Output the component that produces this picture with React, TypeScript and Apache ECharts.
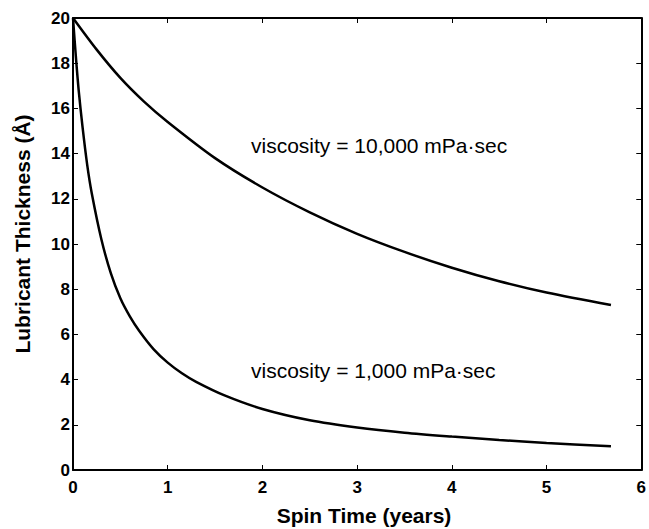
import React, { useEffect, useRef } from "react";
import * as echarts from "echarts";

const highViscT = [0, 0.25, 0.5, 0.75, 1, 1.5, 2, 2.5, 3, 3.5, 4, 4.5, 5, 5.68];
const highViscH = [20, 18.6, 17.35, 16.3, 15.4, 13.8, 12.5, 11.4, 10.45, 9.65, 8.95, 8.35, 7.85, 7.3];

const lowViscT = [0, 0.03, 0.06, 0.1, 0.15, 0.2, 0.3, 0.4, 0.5, 0.6, 0.7, 0.85, 1.0, 1.15, 1.3, 1.6, 2.0, 2.5, 3.0, 3.5, 4.0, 4.5, 5.0, 5.68];
const lowViscH = [20, 18.3, 16.8, 15.2, 13.5, 12.2, 10.2, 8.7, 7.6, 6.8, 6.15, 5.35, 4.75, 4.28, 3.9, 3.3, 2.7, 2.2, 1.88, 1.65, 1.48, 1.33, 1.2, 1.05];

const xTicks = [0, 1, 2, 3, 4, 5, 6];
const yTicks = [0, 2, 4, 6, 8, 10, 12, 14, 16, 18, 20];

const labelHigh = "viscosity = 10,000 mPa·sec";
const labelLow = "viscosity = 1,000 mPa·sec";
const xTitle = "Spin Time (years)";
const yTitle = "Lubricant Thickness (Å)";

const FONT = "Liberation Sans, Arial, Helvetica, sans-serif";

export default function App() {
  const ref = useRef<HTMLDivElement>(null);
  useEffect(() => {
    if (!ref.current) return;
    const chart = echarts.init(ref.current, undefined, { renderer: "svg" });
    const pair = (t: number[], h: number[]) => t.map((v, i) => [v, h[i]]);
    const axisLine = { show: true, onZero: false, lineStyle: { color: "#000", width: 2 } };
    const tick = { show: true, inside: true, length: 5, lineStyle: { color: "#000", width: 1 } };
    chart.setOption({
      animation: false,
      backgroundColor: "#fff",
      grid: { left: 73, right: 2, top: 18, bottom: 59, containLabel: false },
      xAxis: [
        {
          type: "value",
          min: xTicks[0],
          max: xTicks[xTicks.length - 1],
          interval: 1,
          position: "bottom",
          axisLine,
          axisTick: tick,
          splitLine: { show: false },
          axisLabel: { color: "#000", fontFamily: FONT, fontWeight: "bold", fontSize: 17, margin: 9 },
        },
        {
          type: "value",
          min: xTicks[0],
          max: xTicks[xTicks.length - 1],
          interval: 1,
          position: "top",
          axisLine,
          axisTick: tick,
          splitLine: { show: false },
          axisLabel: { show: false },
        },
      ],
      yAxis: [
        {
          type: "value",
          min: yTicks[0],
          max: yTicks[yTicks.length - 1],
          interval: 2,
          position: "left",
          axisLine,
          axisTick: tick,
          splitLine: { show: false },
          axisLabel: { color: "#000", fontFamily: FONT, fontWeight: "bold", fontSize: 17, margin: 3 },
        },
        {
          type: "value",
          min: yTicks[0],
          max: yTicks[yTicks.length - 1],
          interval: 2,
          position: "right",
          axisLine,
          axisTick: tick,
          splitLine: { show: false },
          axisLabel: { show: false },
        },
      ],
      series: [
        {
          name: "10,000 mPa·sec",
          type: "line",
          data: pair(highViscT, highViscH),
          smooth: 0.3,
          showSymbol: false,
          lineStyle: { color: "#000", width: 2.5 },
        },
        {
          name: "1,000 mPa·sec",
          type: "line",
          data: pair(lowViscT, lowViscH),
          smooth: 0.3,
          showSymbol: false,
          lineStyle: { color: "#000", width: 2.5 },
        },
      ],
      graphic: [
        {
          type: "text",
          left: 251,
          top: 135,
          style: { text: labelHigh, font: `21px ${FONT}`, fill: "#000" },
        },
        {
          type: "text",
          left: 251,
          top: 360,
          style: { text: labelLow, font: `21px ${FONT}`, fill: "#000" },
        },
        {
          type: "text",
          x: 364,
          y: 515,
          style: {
            text: xTitle,
            font: `bold 21px ${FONT}`,
            fill: "#000",
            align: "center",
            verticalAlign: "middle",
          },
        },
        {
          type: "text",
          x: 22,
          y: 234,
          rotation: Math.PI / 2,
          style: {
            text: yTitle,
            font: `bold 21px ${FONT}`,
            fill: "#000",
            align: "center",
            verticalAlign: "middle",
          },
        },
      ],
    });
    return () => chart.dispose();
  }, []);
  return (
    <div
      ref={ref}
      style={{ position: "absolute", left: 0, top: 0, width: 649, height: 529 }}
    />
  );
}
